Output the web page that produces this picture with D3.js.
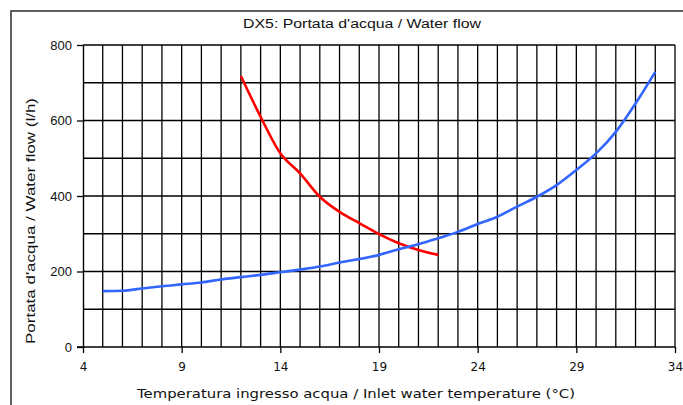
<!DOCTYPE html>
<html>
<head>
<meta charset="utf-8">
<script src="https://cdn.jsdelivr.net/npm/d3@7"></script>
<style>
html,body{margin:0;padding:0;background:#fff;}
svg{display:block;}
</style>
</head>
<body>
<svg id="chart" width="683" height="405"></svg>
<script>
const titleText = "DX5: Portata d'acqua / Water flow";
const xLabel = "Temperatura ingresso acqua / Inlet water temperature (°C)";
const yLabel = "Portata d'acqua / Water flow (l/h)";
const xTicks = [4, 9, 14, 19, 24, 29, 34];
const yTicks = [0, 200, 400, 600, 800];

const redX = [12, 13, 14, 15, 16, 17, 18, 19, 20, 21, 22];
const redY = [718, 610, 513, 460, 398, 358, 328, 299, 275, 257, 244];

const blueX = [5, 6, 7, 8, 9, 10, 11, 12, 13, 14, 15, 16, 17, 18, 19, 20, 21, 22, 23, 24, 25, 26, 27, 28, 29, 30, 31, 32, 33];
const blueY = [148, 149, 155, 161, 166, 171, 179, 185, 191, 198, 205, 213, 224, 233, 244, 259, 272, 288, 305, 326, 345, 372, 398, 429, 469, 513, 570, 645, 729];

const svg = d3.select("#chart");

// outer frame
svg.append("rect").attr("x", 11).attr("y", 11).attr("width", 700).attr("height", 420)
  .attr("fill", "none").attr("stroke", "#3a3a3a").attr("stroke-width", 1.6);

const x = d3.scaleLinear().domain([4, 34]).range([83, 675]);
const y = d3.scaleLinear().domain([0, 800]).range([347, 45]);

// grid
const g = svg.append("g");
g.selectAll("line.v").data(d3.range(5, 35, 1)).join("line")
  .attr("x1", d => x(d)).attr("x2", d => x(d)).attr("y1", y(800)).attr("y2", y(0))
  .attr("stroke", "#000").attr("stroke-width", 1.3);
g.selectAll("line.h").data(d3.range(100, 801, 100)).join("line")
  .attr("x1", x(4)).attr("x2", x(34)).attr("y1", d => y(d)).attr("y2", d => y(d))
  .attr("stroke", "#000").attr("stroke-width", 1.3);

// axes
const xAxis = d3.axisBottom(x).tickValues(xTicks).tickSize(6).tickSizeOuter(0).tickPadding(9);
const yAxis = d3.axisLeft(y).tickValues(yTicks).tickSize(6).tickSizeOuter(0).tickPadding(5);

const gx = svg.append("g").attr("transform", `translate(0,${y(0)})`).call(xAxis);
gx.select(".domain").attr("stroke", "#000").attr("stroke-width", 1.4).attr("d", `M${x(4)-6},0H${x(34)}`);
gx.selectAll(".tick line").attr("stroke", "#000").attr("stroke-width", 1.3);
gx.selectAll("text").attr("font-family", "DejaVu Sans, Verdana, sans-serif").attr("font-size", 12).attr("fill", "#111");

const gy = svg.append("g").attr("transform", `translate(${x(4)},0)`).call(yAxis);
gy.select(".domain").attr("stroke", "#000").attr("stroke-width", 1.4);
gy.selectAll(".tick line").attr("stroke", "#000").attr("stroke-width", 1.3);
gy.selectAll("text").attr("font-family", "Liberation Sans, Arial, sans-serif").attr("font-size", 13).attr("fill", "#111").attr("dy", "0.34em");

// curves
const line = d3.line().x(d => x(d[0])).y(d => y(d[1])).curve(d3.curveMonotoneX);
svg.append("path").datum(redX.map((v, i) => [v, redY[i]]))
  .attr("d", line).attr("fill", "none").attr("stroke", "#ff0000").attr("stroke-width", 2.6);
svg.append("path").datum(blueX.map((v, i) => [v, blueY[i]]))
  .attr("d", line).attr("fill", "none").attr("stroke", "#3366ff").attr("stroke-width", 2.6);

// title & labels
svg.append("text").attr("x", 362).attr("y", 28).attr("text-anchor", "middle")
  .attr("font-family", "Liberation Sans, Arial, sans-serif").attr("font-size", 12.5)
  .attr("textLength", 238).attr("lengthAdjust", "spacingAndGlyphs").attr("fill", "#111").text(titleText);

svg.append("text").attr("x", 356).attr("y", 398).attr("text-anchor", "middle")
  .attr("font-family", "DejaVu Sans, Verdana, sans-serif").attr("font-size", 12.5)
  .attr("textLength", 438).attr("lengthAdjust", "spacingAndGlyphs").attr("fill", "#111").text(xLabel);

svg.append("text").attr("transform", "translate(35,221) rotate(-90)").attr("text-anchor", "middle")
  .attr("font-family", "Liberation Sans, Arial, sans-serif").attr("font-size", 13)
  .attr("textLength", 246).attr("lengthAdjust", "spacingAndGlyphs").attr("fill", "#111").text(yLabel);
</script>
</body>
</html>
